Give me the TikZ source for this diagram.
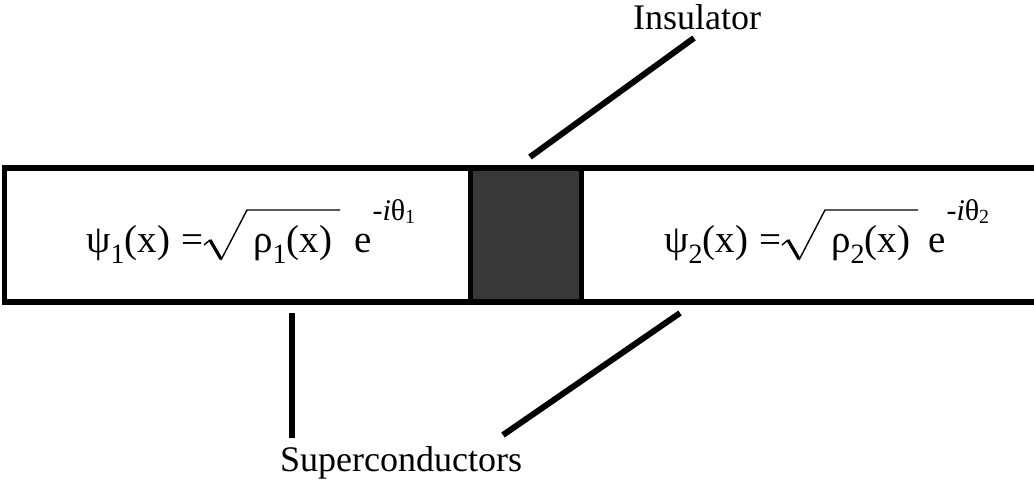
\documentclass[tikz,border=0pt]{standalone}
\usepackage{fontspec}
\setmainfont{Liberation Serif}
\newcommand{\eqfont}{\fontsize{39}{44}\selectfont}
\newcommand{\lblfont}{\fontsize{36}{42}\selectfont}
\newcommand{\subA}[1]{\raisebox{-11pt}{\fontsize{28}{28}\selectfont #1}}
\newcommand{\expo}[1]{e\hspace{1pt}\raisebox{32pt}{\fontsize{30}{30}\selectfont -\textit{i}θ\raisebox{-3pt}{\fontsize{20}{20}\selectfont #1}}}
\begin{document}
\begin{tikzpicture}[x=1pt,y=-1pt,
  eqtext/.style={inner sep=0pt,anchor=base west,font=\eqfont},
  lbl/.style={inner sep=0pt,anchor=base west,font=\lblfont},
  border/.style={line width=5.5pt},
  leader/.style={line width=6pt},
  radthin/.style={line width=1.4pt,line join=miter},
  radthick/.style={line width=3.2pt}]
\useasboundingbox (0,0) rectangle (1034,491);
% insulator block
\node[inner sep=0pt,minimum width=116pt,minimum height=134pt,fill=black!78,draw=none] (blk) at (526,235) {};
\draw[border] (blk.north west) ++(2.5,0) -- ++(0,134);
\draw[border] (blk.north east) ++(-2.5,0) -- ++(0,134);
% outer bar
\draw[border] (1040,168) -- (4.5,168) -- (4.5,302) -- (1040,302);
% equation 1
\node[eqtext] (psiA) at (86,252) {ψ\subA{1}(x)};
\node[eqtext] (eqA) at (181,252) {=};
\draw[radthin] (204,245) -- (210,240);
\draw[radthick] (210,240) -- (221,259);
\draw[radthin] (221,260) -- (247,210) -- (340,210);
\node[eqtext] (rhoA) at (253,252) {ρ\subA{1}(x)};
\node[eqtext] (expA) at (354,252) {\expo{1}};
% equation 2
\node[eqtext] (psiB) at (664,252) {ψ\subA{2}(x)};
\node[eqtext] (eqB) at (759,252) {=};
\draw[radthin] (782,245) -- (788,240);
\draw[radthick] (788,240) -- (799,259);
\draw[radthin] (799,260) -- (825,210) -- (918,210);
\node[eqtext] (rhoB) at (831,252) {ρ\subA{2}(x)};
\node[eqtext] (expB) at (928,252) {\expo{2}};
% labels
\node[lbl] (ins) at (633,29) {Insulator};
\node[lbl] (sup) at (280,471) {Superconductors};
% leaders
\coordinate (insTop) at (694,38);
\coordinate (insBot) at (530,157);
\draw[leader] (insBot) -- (insTop);
\coordinate (s1a) at (292,313);
\coordinate (s1b) at (292,438);
\draw[leader] (s1a) -- (s1b);
\coordinate (s2a) at (680,313);
\coordinate (s2b) at (503,435);
\draw[leader] (s2a) -- (s2b);
\end{tikzpicture}
\end{document}
